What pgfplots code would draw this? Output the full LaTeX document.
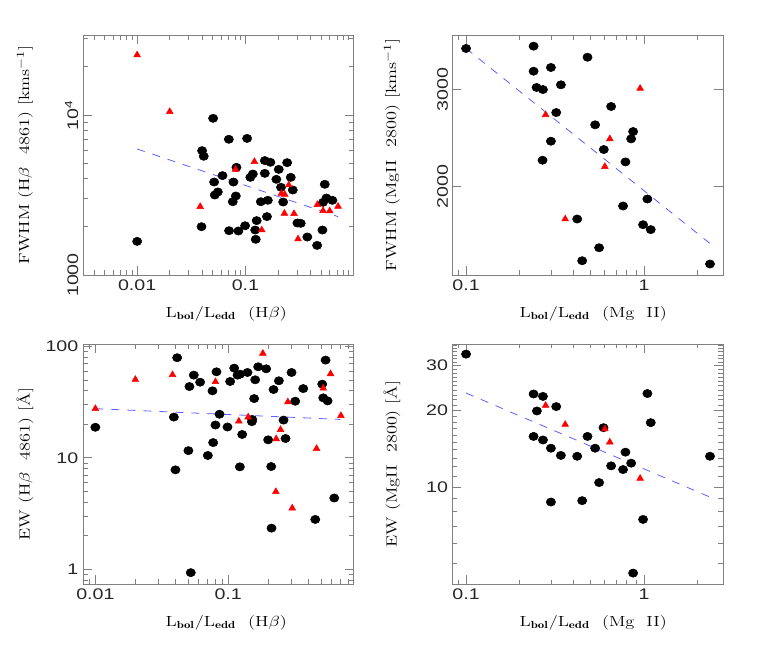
\documentclass[border=0pt]{standalone}
\usepackage{pgfplots}
\pgfplotsset{compat=1.18}
\usepackage{fontspec}
\usepackage{graphicx}
\newfontfamily\tickfont{Liberation Sans}[FakeStretch=1.28]

\definecolor{fitblue}{RGB}{95,95,255}
\definecolor{framegray}{gray}{0.5}

% wide, spaced labels like the original plotting package
\newcommand{\lab}[1]{\scalebox{1.25}[1]{\fontsize{11}{13}\selectfont #1}}

\pgfplotsset{
  panel/.style={
    scale only axis, width=202.7pt, height=180pt,
    axis line style={draw=framegray, line width=0.6pt},
    every tick/.style={draw=framegray, line width=0.6pt},
    tick align=inside, tick pos=both,
    major tick length=6.5pt, minor tick length=3.4pt,
    tick label style={font=\tickfont\fontsize{11.5}{13}\selectfont, text=black!85},
    xlabel style={at={(axis description cs:0.53,-0.177)}, anchor=base},
    clip=false,
  },
  circ/.style={only marks, mark=*, mark size=3.1pt,
    mark options={draw=black, fill=black, xscale=1.12}},
  tri/.style={only marks, mark=triangle*, mark size=2.9pt,
    mark options={draw=red, fill=red}},
  fit/.style={fitblue, dash pattern=on 6pt off 6pt, line width=0.6pt, no markers},
}

\begin{document}
\begin{tikzpicture}
\useasboundingbox (0,0) rectangle (572.25pt,490.5pt);

% ---- FWHM(Hb) vs Lbol/Ledd(Hb)
\begin{loglogaxis}[panel, at={(62.25pt,284.25pt)}, anchor=south west,
    xmin=0.003162, xmax=0.99, ymin=1000, ymax=31623,
    xtick={0.01,0.1}, xticklabels={0.01,0.1},
    minor xtick={0.004,0.005,0.006,0.007,0.008,0.009,0.02,0.03,0.04,0.05,0.06,0.07,0.08,0.09,0.2,0.3,0.4,0.5,0.6,0.7,0.8,0.9},
    ytick={1000,10000}, yticklabels={1000,10\textsuperscript{4}},
    minor ytick={2000,3000,4000,5000,6000,7000,8000,9000,20000,30000},
    yticklabel style={rotate=90, anchor=south},
    ylabel style={at={(axis description cs:-0.215,0.5)}, anchor=center},
    ylabel={\lab{FWHM (H$\beta$\ \ 4861) [kms$^{-1}$]}},
    xlabel={\lab{L$_{\mathbf{bol}}$/L$_{\mathbf{edd}}$\ \ (H$\beta$)}}]
\addplot[circ] coordinates {
 (0.01,1622) (0.0503,9531) (0.0398,5986) (0.0412,5521) (0.0393,2004)
 (0.0702,7050) (0.1036,7140) (0.0614,4178) (0.0514,3811) (0.0521,3162)
 (0.0556,3304) (0.0826,4708) (0.0775,3811) (0.0815,3118) (0.0764,2871)
 (0.0706,1892) (0.0861,1884) (0.0993,2032) (0.111,4076) (0.117,4276)
 (0.151,5188) (0.170,5062) (0.151,4316) (0.127,2187) (0.123,1910)
 (0.1245,1671) (0.1387,2871) (0.161,2929) (0.158,2317) (0.203,4571)
 (0.193,3963) (0.213,3532) (0.223,2858) (0.2427,5036) (0.262,4076)
 (0.2735,3398) (0.302,2113) (0.324,2104) (0.373,1728) (0.459,1531)
 (0.514,1910) (0.540,3689) (0.560,3027) (0.521,2845) (0.635,2929)
};
\addplot[fit] coordinates {(0.01,6132) (0.716,2317)};
\addplot[tri] coordinates {
 (0.01,23714) (0.02,10490) (0.0382,2673) (0.081,4571) (0.121,5110)
 (0.1416,1910) (0.215,3236) (0.2305,3190) (0.229,2427) (0.251,3652)
 (0.281,2416) (0.306,1679) (0.462,2754) (0.521,2523) (0.600,2512) (0.716,2685)
};
\end{loglogaxis}

% ---- FWHM(MgII) vs Lbol/Ledd(MgII)
\begin{loglogaxis}[panel, at={(339.5pt,284.25pt)}, anchor=south west,
    xmin=0.0841, xmax=2.773, ymin=1381, ymax=3776,
    xtick={0.1,1}, xticklabels={0.1,1},
    minor xtick={0.09,0.2,0.3,0.4,0.5,0.6,0.7,0.8,0.9,2},
    ytick={2000,3000}, yticklabels={2000,3000}, minor ytick={},
    yticklabel style={rotate=90, anchor=south},
    ylabel style={at={(axis description cs:-0.225,0.5)}, anchor=center},
    ylabel={\lab{FWHM (MgII\ \ 2800) [kms$^{-1}$]}},
    xlabel style={at={(axis description cs:0.52,-0.177)}},
    xlabel={\lab{L$_{\mathbf{bol}}$/L$_{\mathbf{edd}}$\ \ (Mg\ \ II)}}]
\addplot[circ] coordinates {
 (0.1,3568) (0.2395,3603) (0.481,3440) (0.2395,3244) (0.2997,3295)
 (0.249,3030) (0.2703,3004) (0.341,3064) (0.321,2728) (0.653,2798)
 (0.531,2591) (0.868,2519) (0.846,2443) (0.2997,2419) (0.594,2336)
 (0.269,2234) (0.786,2218) (1.044,1899) (0.762,1844) (0.421,1746)
 (0.987,1705) (1.090,1670) (0.559,1548) (0.449,1466) (2.345,1446)
};
\addplot[fit] coordinates {(0.1,3568) (2.34,1577)};
\addplot[tri] coordinates {
 (0.950,3018) (0.2798,2702) (0.642,2443) (0.602,2175) (0.3605,1746)
};
\end{loglogaxis}

% ---- EW(Hb) vs Lbol/Ledd(Hb)
\begin{loglogaxis}[panel, at={(62.25pt,52.5pt)}, anchor=south west,
    xmin=0.00807, xmax=0.8754, ymin=0.738, ymax=105,
    xtick={0.01,0.1}, xticklabels={0.01,0.1},
    minor xtick={0.009,0.02,0.03,0.04,0.05,0.06,0.07,0.08,0.09,0.2,0.3,0.4,0.5,0.6,0.7,0.8},
    ytick={1,10,100}, yticklabels={1,10,100},
    minor ytick={0.8,0.9,2,3,4,5,6,7,8,9,20,30,40,50,60,70,80,90},
    ylabel style={at={(axis description cs:-0.215,0.5)}, anchor=center},
    ylabel={\lab{EW (H$\beta$\ \ 4861) [\AA]}},
    xlabel={\lab{L$_{\mathbf{bol}}$/L$_{\mathbf{edd}}$\ \ (H$\beta$)}}]
\addplot[circ] coordinates {
 (0.01,18.8) (0.0413,79.1) (0.0390,23.2) (0.0401,7.80) (0.0511,43.6)
 (0.0551,55.2) (0.0615,47.7) (0.0502,11.6) (0.0523,0.933) (0.0762,39.9)
 (0.0817,59.1) (0.0861,24.6) (0.0802,19.7) (0.0771,13.7) (0.0703,10.5)
 (0.1035,48.4) (0.111,63.8) (0.1176,55.2) (0.1231,56.3) (0.1398,58.3)
 (0.0989,18.9) (0.1275,16.2) (0.1225,8.30) (0.1683,65.6) (0.1934,62.9)
 (0.1598,50.1) (0.157,34.0) (0.1517,22.1) (0.1509,21.1) (0.2409,49.1)
 (0.2197,41.0) (0.3001,58.3) (0.2613,21.8) (0.2001,14.5) (0.2705,14.9)
 (0.2109,8.35) (0.2121,2.34) (0.3199,32.2) (0.3675,41.8) (0.4527,2.80)
 (0.511,45.8) (0.520,34.5) (0.561,32.4) (0.5417,75.3) (0.6295,4.36)
};
\addplot[fit] coordinates {(0.01,27.6) (0.70,22.1)};
\addplot[tri] coordinates {
 (0.01,27.6) (0.02,50.4) (0.0381,55.6) (0.0802,48.1) (0.1825,86.5)
 (0.1203,21.3) (0.1415,23.2) (0.2816,31.7) (0.248,17.9) (0.230,14.8)
 (0.2287,4.97) (0.3037,3.54) (0.4632,12.1) (0.520,42.1) (0.5905,56.7) (0.7065,23.9)
};
\end{loglogaxis}

% ---- EW(MgII) vs Lbol/Ledd(MgII)
\begin{loglogaxis}[panel, at={(339.5pt,52.5pt)}, anchor=south west,
    xmin=0.0841, xmax=2.773, ymin=4.15, ymax=36.5,
    xtick={0.1,1}, xticklabels={0.1,1},
    minor xtick={0.09,0.2,0.3,0.4,0.5,0.6,0.7,0.8,0.9,2},
    ytick={10,20,30}, yticklabels={10,20,30},
    minor ytick={5,6,7,8,9,11,12,13,14,15,16,17,18,19,21,22,23,24,25,26,27,28,29,31,32,33,34,35,36},
    ylabel style={at={(axis description cs:-0.225,0.5)}, anchor=center},
    ylabel={\lab{EW (MgII\ \ 2800) [\AA]}},
    xlabel style={at={(axis description cs:0.52,-0.177)}},
    xlabel={\lab{L$_{\mathbf{bol}}$/L$_{\mathbf{edd}}$\ \ (Mg\ \ II)}}]
\addplot[circ] coordinates {
 (0.1,33.3) (0.2395,23.2) (0.2703,22.7) (0.250,19.9) (0.321,20.7)
 (0.2395,15.8) (0.2703,15.3) (0.2997,14.2) (0.341,13.3) (0.421,13.2)
 (0.481,15.8) (0.531,14.2) (0.5916,17.1) (0.786,13.7) (0.653,12.1)
 (0.762,11.7) (0.846,12.4) (0.559,10.4) (0.2997,8.72) (0.449,8.83)
 (0.987,7.45) (1.044,23.3) (1.090,17.9) (0.868,4.58) (2.345,13.2)
};
\addplot[fit] coordinates {(0.1,23.4) (2.34,9.13)};
\addplot[tri] coordinates {
 (0.2798,20.9) (0.3605,17.6) (0.602,16.9) (0.642,15.0) (0.950,10.8)
};
\end{loglogaxis}
\end{tikzpicture}
\end{document}
